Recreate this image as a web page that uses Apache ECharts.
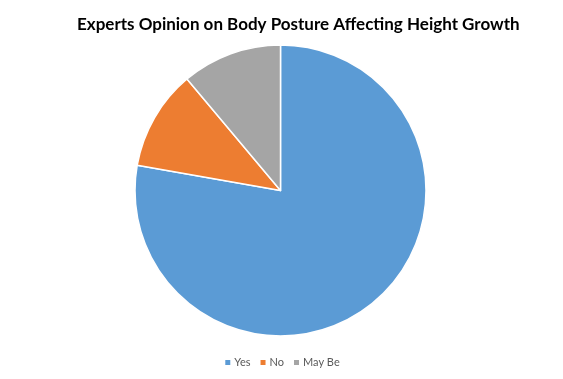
<!DOCTYPE html>
<html><head><meta charset="utf-8">
<script src="https://cdn.jsdelivr.net/npm/echarts@6/dist/echarts.min.js"></script>
<style>html,body{margin:0;padding:0;background:#fff}#c{width:563px;height:379px}</style>
</head><body><div id="c"></div>
<script>
const categories = ['Yes', 'No', 'May Be'];
const values = [7, 1, 1];
const colors = ['#5B9BD5', '#ED7D31', '#A5A5A5'];

const chart = echarts.init(document.getElementById('c'), null, {renderer: 'canvas'});
chart.setOption({
  animation: false,
  backgroundColor: '#fff',
  title: {
    text: 'Experts Opinion on Body Posture Affecting Height Growth',
    left: 72, top: 11,
    textStyle: {fontFamily: 'Lato', fontWeight: 'bold', fontSize: 17, color: '#000'}
  },
  legend: {
    bottom: 6, left: 'center',
    icon: 'rect', itemWidth: 7, itemHeight: 7, itemGap: 8,
    textStyle: {fontFamily: 'Lato', fontSize: 11, color: '#595959', padding: [0,0,0,-2]},
    data: categories
  },
  series: [{
    type: 'pie',
    center: [280.5, 190.5],
    radius: 145.5,
    startAngle: 90,
    clockwise: true,
    label: {show: false},
    labelLine: {show: false},
    itemStyle: {borderColor: '#fff', borderWidth: 1.5},
    data: categories.map((n, i) => ({name: n, value: values[i], itemStyle: {color: colors[i]}}))
  }]
});
</script></body></html>
